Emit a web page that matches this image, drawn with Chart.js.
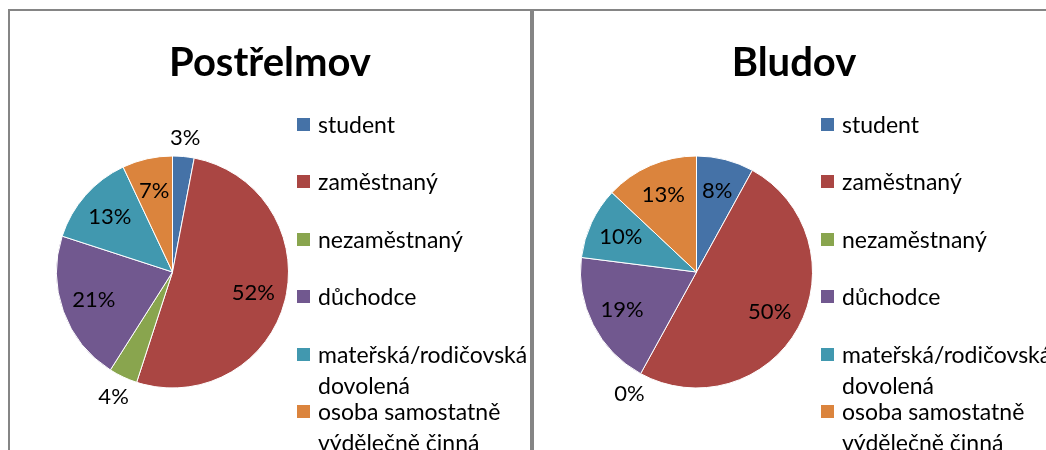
<!DOCTYPE html>
<html lang="cs">
<head>
<meta charset="utf-8">
<title>Postřelmov / Bludov</title>
<script src="https://cdn.jsdelivr.net/npm/chart.js@4.4.1/dist/chart.umd.min.js"></script>
<style>
  html, body { margin: 0; padding: 0; background: #fff; overflow: hidden; }
  body { width: 1046px; height: 450px; position: relative; font-family: Lato, 'Open Sans', sans-serif; }
  .panel {
    position: absolute; top: 9px; width: 520px; height: 480px;
    border: 2px solid #858585; overflow: hidden; background: #fff;
  }
  .panel canvas { position: absolute; left: 0; top: 0; }
  .title {
    position: absolute; left: 0; top: 27px; width: 520px;
    text-align: center; font-weight: 700; font-size: 40px; line-height: 46px; color: #000;
  }
  .legend { position: absolute; left: 287px; top: 98px; margin: 0; padding: 0; list-style: none; }
  .legend li {
    position: relative; height: 57.4px; padding-left: 21px;
    font-size: 23px; line-height: 31px; color: #000; white-space: nowrap;
  }
  .legend .sw { position: absolute; left: 0; top: 9px; width: 13px; height: 13px; }
</style>
</head>
<body>
<div class="panel" id="p1" style="left:8px">
  <canvas id="chart1" width="520" height="440"></canvas>
  <div class="title" id="t1"></div>
  <ul class="legend" id="l1"></ul>
</div>
<div class="panel" id="p2" style="left:532px">
  <canvas id="chart2" width="520" height="440"></canvas>
  <div class="title" id="t2"></div>
  <ul class="legend" id="l2"></ul>
</div>

<script>
// ---- data ----
const categories = [
    'student',
    'zaměstnaný',
    'nezaměstnaný',
    'důchodce',
    ['mateřská/rodičovská', 'dovolená'],
    ['osoba samostatně', 'výdělečně činná']
];
const titles = ['Postřelmov', 'Bludov'];
const postrelmovValues = [3, 52, 4, 21, 13, 7];
const bludovValues     = [8, 50, 0, 19, 10, 13];
const sliceColors = ['#4572A7', '#AA4643', '#89A54E', '#71588F', '#4198AF', '#DB843D'];

// percentage labels: inside the slice, small ones pushed outside
const pctLabels = {
    id: 'pctLabels',
    afterDatasetsDraw(chart) {
        const ctx = chart.ctx;
        const values = chart.data.datasets[0].data;
        ctx.save();
        ctx.font = '22px Lato, "Open Sans", sans-serif';
        ctx.fillStyle = '#000';
        ctx.textAlign = 'center';
        ctx.textBaseline = 'middle';
        chart.getDatasetMeta(0).data.forEach((arc, i) => {
            const p = arc.getProps(['x', 'y', 'startAngle', 'endAngle', 'outerRadius'], true);
            const mid = (p.startAngle + p.endAngle) / 2;
            let d = p.outerRadius * 0.72;
            if (values[i] < 5) {
                // outside: push past the rim by the half box of the text
                const w = ctx.measureText(values[i] + '%').width;
                d = p.outerRadius + 6 + Math.abs(Math.cos(mid)) * w / 2 + Math.abs(Math.sin(mid)) * 11;
            }
            ctx.fillText(values[i] + '%', p.x + Math.cos(mid) * d, p.y + Math.sin(mid) * d);
        });
        ctx.restore();
    }
};

function buildLegend(el) {
    categories.forEach((c, i) => {
        const li = document.createElement('li');
        const sw = document.createElement('span');
        sw.className = 'sw';
        sw.style.background = sliceColors[i];
        li.appendChild(sw);
        const lines = Array.isArray(c) ? c : [c];
        lines.forEach((t, k) => {
            if (k) li.appendChild(document.createElement('br'));
            li.appendChild(document.createTextNode(t));
        });
        el.appendChild(li);
    });
}

function makePie(canvasId, values) {
    return new Chart(document.getElementById(canvasId), {
        type: 'pie',
        data: {
            labels: categories,
            datasets: [{
                data: values,
                backgroundColor: sliceColors,
                borderColor: '#ffffff',
                borderWidth: 1
            }]
        },
        options: {
            responsive: false,
            animation: false,
            devicePixelRatio: 1,
            layout: { padding: { left: 46, right: 241, top: 144.5, bottom: 62.5 } },
            plugins: {
                legend: { display: false },
                title: { display: false },
                tooltip: { enabled: false }
            }
        },
        plugins: [pctLabels]
    });
}

document.getElementById('t1').textContent = titles[0];
document.getElementById('t2').textContent = titles[1];
buildLegend(document.getElementById('l1'));
buildLegend(document.getElementById('l2'));
makePie('chart1', postrelmovValues);
makePie('chart2', bludovValues);
</script>
</body>
</html>
